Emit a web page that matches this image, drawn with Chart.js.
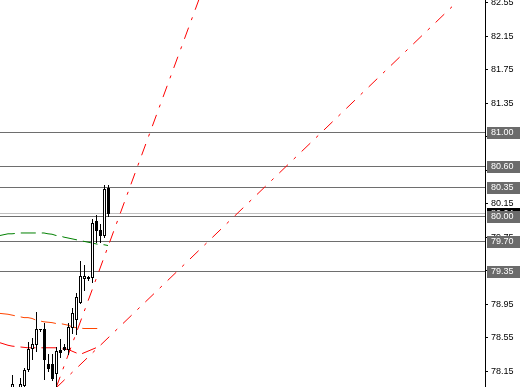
<!DOCTYPE html>
<html>
<head>
<meta charset="utf-8">
<script src="https://cdn.jsdelivr.net/npm/chart.js@4.4.1/dist/chart.umd.min.js"></script>
<style>
  html, body { margin: 0; padding: 0; background: #fff; }
  canvas { display: block; }
</style>
</head>
<body>
<canvas id="chart" width="520" height="387"></canvas>
<script>
// candles (bar index, 4 px per bar at this zoom)
const bars   = [3, 5, 6, 7, 8, 9, 10, 11, 12, 13, 14, 15, 16, 17, 18, 19, 20, 21, 22, 23, 24, 25, 26, 27];
const opens  = [77.93, 77.93, 77.98, 78.18, 78.43, 78.48, 78.66, 78.66, 78.24, 78.24, 78.13, 78.40, 78.44, 78.41, 78.68, 78.77, 78.98, 79.26, 79.28, 79.28, 79.94, 79.84, 79.78, 80.34];
const highs  = [78.10, 78.07, 78.19, 78.50, 78.55, 78.86, 78.66, 78.72, 78.35, 78.35, 78.44, 78.53, 78.47, 78.72, 78.91, 79.08, 79.46, 79.42, 79.29, 79.97, 80.01, 79.91, 80.37, 80.37];
const lows   = [77.91, 77.91, 77.93, 78.15, 78.30, 78.39, 78.63, 78.06, 78.15, 78.04, 77.93, 78.32, 78.40, 78.35, 78.61, 78.59, 78.97, 79.12, 79.24, 79.21, 79.69, 79.69, 79.75, 80.00];
const closes = [78.00, 78.00, 78.17, 78.42, 78.47, 78.66, 78.66, 78.30, 78.19, 78.07, 78.39, 78.38, 78.41, 78.68, 78.85, 79.03, 79.29, 79.29, 79.26, 79.92, 79.84, 79.78, 80.33, 80.04];

// moving averages
const maBars   = [0, 1, 2, 3, 4, 5, 6, 7, 8, 9, 10, 11, 12, 13, 14, 15, 16, 17, 18, 19, 20, 21, 22, 23, 24, 25, 26, 27];
const greenMA  = [79.77, 79.78, 79.79, 79.79, 79.795, 79.80, 79.80, 79.80, 79.80, 79.80, 79.80, 79.80, 79.79, 79.785, 79.77, 79.765, 79.75, 79.74, 79.73, 79.72, 79.71, 79.70, 79.69, 79.68, 79.67, 79.66, 79.66, 79.65];
const orangeMA = [78.84, 78.835, 78.83, 78.82, 78.81, 78.80, 78.79, 78.79, 78.78, 78.76, 78.75, 78.74, 78.735, 78.73, 78.72, 78.72, 78.71, 78.70, 78.68, 78.67, 78.665, 78.66, 78.66, 78.66, 78.66, 78.66];
const redMA    = [78.49, 78.475, 78.46, 78.45, 78.445, 78.44, 78.435, 78.43, 78.43, 78.43, 78.43, 78.43, 78.43, 78.43, 78.43, 78.42, 78.415, 78.41, 78.39, 78.37, 78.35, 78.37, 78.39, 78.41, 78.43, 78.46];

// fan lines from the low of bar 14
const fanABars = [14, 52];
const fanAVals = [77.95, 82.88];
const fanBBars = [14, 113];
const fanBVals = [77.95, 82.50];

// horizontal levels and axis ticks
const levels = [81.00, 80.60, 80.35, 80.00, 79.70, 79.35];
const yTicks = [78.15, 78.55, 78.95, 79.35, 79.75, 80.15, 80.55, 80.95, 81.35, 81.75, 82.15, 82.55];

const toPoints = (xs, ys) => ys.map((v, i) => ({ x: xs[i], y: v }));

const mtPlugin = {
    id: 'mt',
    beforeDatasetsDraw(chart) {
        const { ctx, chartArea: a, scales: { y } } = chart;
        ctx.save();
        ctx.lineWidth = 1;
        // bid line
        ctx.strokeStyle = '#c0c0c0';
        let py = Math.round(y.getPixelForValue(closes[closes.length - 1])) + 0.5;
        ctx.beginPath(); ctx.moveTo(a.left, py); ctx.lineTo(a.right, py); ctx.stroke();
        ctx.strokeStyle = '#6e6e6e';
        levels.forEach((v) => {
            py = Math.round(y.getPixelForValue(v)) + 0.5;
            ctx.beginPath(); ctx.moveTo(a.left, py); ctx.lineTo(a.right, py); ctx.stroke();
        });
        ctx.restore();
    },
    afterDatasetsDraw(chart) {
        const { ctx, chartArea: a, scales: { x, y } } = chart;
        ctx.save();
        ctx.beginPath();
        ctx.rect(a.left, a.top, a.right - a.left, a.bottom - a.top);
        ctx.clip();
        bars.forEach((b, i) => {
            const px = Math.round(x.getPixelForValue(b));
            const yh = Math.round(y.getPixelForValue(highs[i]));
            const yl = Math.round(y.getPixelForValue(lows[i]));
            const yo = Math.round(y.getPixelForValue(opens[i]));
            const yc = Math.round(y.getPixelForValue(closes[i]));
            const top = Math.min(yo, yc), bot = Math.max(yo, yc);
            ctx.fillStyle = '#000';
            ctx.fillRect(px, yh, 1, yl - yh + 1);
            ctx.fillRect(px - 1, top, 3, bot - top + 1);
            if (closes[i] > opens[i] && bot - top >= 2) {
                ctx.fillStyle = '#fff';
                ctx.fillRect(px, top + 1, 1, bot - top - 1);
            }
        });
        ctx.restore();
    },
    afterDraw(chart) {
        const { ctx, chartArea: a, scales: { y } } = chart;
        ctx.save();
        ctx.font = '9px "Liberation Sans"';
        ctx.textBaseline = 'middle';
        const box = (v, bg) => {
            const py = Math.round(y.getPixelForValue(v));
            ctx.fillStyle = bg;
            ctx.fillRect(a.right + 2, py - 5, chart.width - a.right - 2, 12);
            ctx.fillStyle = '#fff';
            ctx.fillText(v.toFixed(2), a.right + 6, py + 1);
        };
        box(closes[closes.length - 1], '#000');
        levels.forEach((v) => box(v, '#6b6b6b'));
        ctx.restore();
    }
};

const fanStyle = { borderColor: '#ff0000', borderWidth: 1, borderDash: [12, 8, 3, 8], pointRadius: 0 };

new Chart(document.getElementById('chart'), {
    type: 'line',
    data: {
        datasets: [
            { data: toPoints(maBars, greenMA), borderColor: '#008000', borderWidth: 1, borderDash: [15, 6], pointRadius: 0 },
            { data: toPoints(maBars, orangeMA), borderColor: '#ff4500', borderWidth: 1, borderDash: [15, 6], pointRadius: 0 },
            { data: toPoints(maBars, redMA), borderColor: '#ff0000', borderWidth: 1, borderDash: [15, 6], pointRadius: 0 },
            { data: toPoints(fanABars, fanAVals), ...fanStyle },
            { data: toPoints(fanBBars, fanBVals), ...fanStyle },
        ],
    },
    options: {
        responsive: false,
        animation: false,
        events: [],
        layout: { padding: 0 },
        plugins: { legend: { display: false }, tooltip: { enabled: false } },
        scales: {
            x: { type: 'linear', min: 0, max: 121.25, display: false },
            y: {
                position: 'right',
                min: 77.962,
                max: 82.58,
                afterBuildTicks: (axis) => { axis.ticks = yTicks.map((v) => ({ value: v })); },
                afterFit: (axis) => { axis.width = 35; axis.paddingTop = 0; axis.paddingBottom = 0; },
                grid: { drawOnChartArea: false, color: '#000', tickLength: 3 },
                border: { color: '#000' },
                ticks: {
                    autoSkip: false,
                    padding: 3,
                    color: '#000',
                    font: { family: 'Liberation Sans', size: 9 },
                    callback: (v) => v.toFixed(2),
                },
            },
        },
    },
    plugins: [mtPlugin],
});
</script>
</body>
</html>
